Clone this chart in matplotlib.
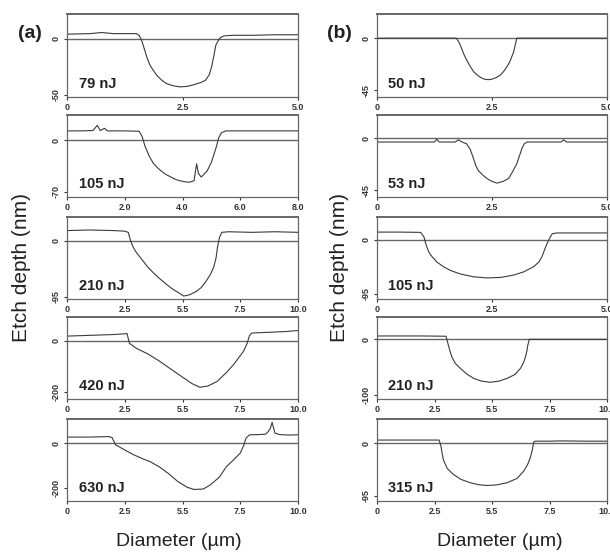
"""
Etch depth profiles of craters for several pulse energies, panels (a) and (b).
"""

import matplotlib
matplotlib.use('Agg')
import matplotlib.pyplot as plt

plt.rcParams['font.family'] = ['Liberation Sans', 'DejaVu Sans']

# ---- data ----
# column (a)
a_energy = ['79 nJ', '105 nJ', '210 nJ', '420 nJ', '630 nJ']
a_xmax = [5.0, 8.0, 10.0, 10.0, 10.0]
a_ylim = [(-52, 22), (-77, 34), (-99, 40), (-229, 93), (-256, 107)]
a_yticks = [-50, -70, -95, -200, -200]
a_xticklabels = [['0', '2.5', '5.0'],
                 ['0', '2.0', '4.0', '6.0', '8.0'],
                 ['0', '2.5', '5.5', '7.5', '10.0'],
                 ['0', '2.5', '5.5', '7.5', '10.0'],
                 ['0', '2.5', '5.5', '7.5', '10.0']]

a1_x = [0, 0.5, 0.75, 1.0, 1.5, 1.56, 1.62, 1.68, 1.74, 1.8, 1.88, 1.95, 2.05,
        2.15, 2.3, 2.45, 2.6, 2.75, 2.9, 3.0, 3.08, 3.13, 3.18, 3.22, 3.27,
        3.32, 3.4, 3.6, 4.0, 4.5, 5.0]
a1_y = [4, 4.5, 5.5, 4.5, 4.5, 3, -2, -10, -18, -24, -29, -33, -37,
        -40, -42, -43, -42.5, -41, -39, -37, -32, -25, -15, -6, -2,
        1, 2.5, 3, 3, 3.5, 3.5]

a2_x = [0, 0.5, 0.9, 1.05, 1.15, 1.3, 1.4, 2.0, 2.5, 2.6, 2.7, 2.85, 3.0, 3.15,
        3.3, 3.45, 3.6, 3.75, 3.9, 4.1, 4.25, 4.4, 4.49, 4.55, 4.65, 4.85, 5.0,
        5.1, 5.18, 5.25, 5.35, 5.5, 6.0, 7.0, 8.0]
a2_y = [12.5, 12.5, 13, 20, 13, 16, 12.5, 12.5, 12, 5, -8, -22, -32, -38,
        -43, -47, -50, -53, -55, -56.5, -57, -55, -32, -45, -50, -42, -30,
        -18, -8, 3, 10, 12.5, 12.5, 12.5, 12.5]

a3_x = [0, 1, 2, 2.5, 2.65, 2.75, 2.85, 3.0, 3.2, 3.5, 3.75, 4.0, 4.3, 4.6, 4.9,
        5.05, 5.3, 5.6, 5.8, 6.0, 6.2, 6.35, 6.45, 6.52, 6.6, 6.7, 7.0, 8.0,
        9.0, 10.0]
a3_y = [17, 18, 17, 16, 14, 0, -10, -20, -30, -45, -55, -64, -74, -83, -90,
        -94, -92, -86, -80, -70, -58, -45, -30, -10, 5, 14, 15, 14, 15, 14]

a4_x = [0, 1, 2, 2.5, 2.6, 2.7, 3.0, 3.5, 4.0, 4.5, 5.0, 5.4, 5.75, 6.1, 6.5,
        6.9, 7.2, 7.45, 7.65, 7.8, 7.9, 8.0, 8.5, 9.0, 9.5, 10.0]
a4_y = [18, 21, 24, 27, 28, -10, -30, -52, -80, -112, -143, -168, -183, -178,
        -160, -125, -95, -65, -40, -10, 20, 30, 32, 34, 36, 40]

a5_x = [0, 1, 1.8, 1.95, 2.1, 2.5, 2.9, 3.3, 3.6, 4.0, 4.4, 4.8, 5.2, 5.5, 5.9,
        6.2, 6.6, 6.9, 7.2, 7.5, 7.65, 7.75, 7.9, 8.3, 8.6, 8.7, 8.8, 8.88, 9.0,
        9.2, 9.6, 10.0]
a5_y = [27, 27, 29, 25, -7, -30, -52, -70, -82, -105, -135, -170, -195, -205,
        -203, -185, -150, -104, -75, -44, -10, 22, 37, 38, 40, 50, 65, 92, 45,
        38, 36, 37]

# column (b)
b_energy = ['50 nJ', '53 nJ', '105 nJ', '210 nJ', '315 nJ']
b_xmax = [5.0, 5.0, 5.0, 10.0, 10.0]
b_ylim = [(-51, 21), (-51, 20), (-104, 40), (-107, 40), (-104, 44)]
b_yticks = [-45, -45, -95, -100, -95]
b_xticklabels = [['0', '2.5', '5.0'],
                 ['0', '2.5', '5.0'],
                 ['0', '2.5', '5.0'],
                 ['0', '2.5', '5.5', '7.5', '10.0'],
                 ['0', '2.5', '5.5', '7.5', '10.0']]

b1_x = [0, 1, 1.6, 1.73, 1.8, 1.85, 1.9, 1.95, 2.02, 2.1, 2.18, 2.25, 2.33,
        2.42, 2.5, 2.6, 2.68, 2.75, 2.82, 2.88, 2.93, 2.97, 3.01, 3.04, 3.5,
        4.0, 5.0]
b1_y = [0, 0, 0, 0, -5, -10, -15, -19, -24, -29, -32, -34, -35.5,
        -36, -35.5, -34, -32, -29, -25, -21, -16, -12, -5, 0, 0,
        0, 0]

b2_x = [0, 0.5, 1.0, 1.25, 1.3, 1.35, 1.7, 1.77, 1.85, 1.95, 2.03, 2.1, 2.15,
        2.2, 2.3, 2.39, 2.5, 2.61, 2.74, 2.86, 2.95, 3.04, 3.1, 3.15, 3.2, 3.26,
        3.5, 4.0, 4.06, 4.12, 4.5, 5.0]
b2_y = [-3.4, -3.4, -3.4, -3.4, -1, -3.4, -3.4, -1.5, -3.4, -5, -10, -18, -24,
        -28, -32, -35, -37.5, -39, -37.5, -35, -29, -22, -15, -9, -5, -3.4,
        -3.4, -3.4, -1.5, -3.4, -3.4, -3.4]

b3_x = [0, 0.5, 0.95, 1.02, 1.08, 1.13, 1.19, 1.3, 1.44, 1.6, 1.81, 2.1, 2.39,
        2.7, 2.97, 3.2, 3.41, 3.52, 3.59, 3.65, 3.7, 3.76, 3.81, 3.9, 4.5, 5.0]
b3_y = [13.5, 13.5, 13, 5, -12, -22, -29, -39, -47, -54, -60, -65, -67,
        -66, -62, -56, -47, -39, -29, -16, -6, 4, 10.5, 12, 12, 12]

b4_x = [0, 1, 2, 3.0, 3.1, 3.18, 3.25, 3.4, 3.62, 3.9, 4.2, 4.55, 4.93, 5.3,
        5.66, 6.0, 6.24, 6.38, 6.46, 6.52, 6.55, 6.62, 7, 8, 9, 10]
b4_y = [6, 6, 6, 5.5, -10, -22, -31, -43, -52, -62, -70, -75, -77, -75,
        -70, -63, -52, -41, -31, -20, -12, 0, 0, 0, 0, 0]

b5_x = [0, 1, 2, 2.7, 2.78, 2.84, 2.89, 3.05, 3.32, 3.65, 4.05, 4.4, 4.78, 5.2,
        5.66, 6.1, 6.38, 6.55, 6.68, 6.76, 6.82, 6.9, 7.5, 8, 9, 10]
b5_y = [6, 6, 6, 6, -5, -20, -30, -45, -56, -65, -71, -74.5, -76, -75,
        -71, -63, -50, -38, -24, -10, 3, 4, 4, 4.5, 4, 4]

a_profiles = [(a1_x, a1_y), (a2_x, a2_y), (a3_x, a3_y), (a4_x, a4_y), (a5_x, a5_y)]
b_profiles = [(b1_x, b1_y), (b2_x, b2_y), (b3_x, b3_y), (b4_x, b4_y), (b5_x, b5_y)]


def draw_panel(ax, prof, xmax, ylim, ytick, xlabels, energy):
    """
    Draw one depth profile with its zero line.
    """
    x, y = prof
    ax.axhline(0, color='#666666', lw=1.0, zorder=1)
    ax.plot(x, y, color='#3a3a3a', lw=0.8, zorder=2)
    ax.set_xlim(0, xmax)
    ax.set_ylim(*ylim)
    n = len(xlabels)
    ax.set_xticks([xmax * i / (n - 1) for i in range(n)])
    ax.set_xticklabels(xlabels)
    ax.set_yticks([ytick, 0])
    ax.set_yticklabels([str(ytick), '0'], rotation=90, va='center')
    ax.tick_params(labelsize=6.5, length=2.5, width=0.8, pad=2,
                   colors='#333333')
    for lab in ax.get_xticklabels() + ax.get_yticklabels():
        lab.set_fontweight('bold')
    for s in ax.spines.values():
        s.set_color('#666666')
        s.set_linewidth(0.9)
    ax.spines['top'].set_linewidth(1.4)
    ax.text(0.05, 0.16, energy, transform=ax.transAxes, fontsize=10.5,
            fontweight='bold', va='center', ha='left', color='#222222')


def main():
    fig = plt.figure(figsize=(6.1, 5.52), dpi=100)
    H = 552.0
    W = 610.0
    rows = [(14, 97), (115, 197), (217, 299), (317, 399), (419, 501)]
    for i, (top, bot) in enumerate(rows):
        axa = fig.add_axes([67 / W, 1 - bot / H, 231 / W, (bot - top) / H])
        draw_panel(axa, a_profiles[i], a_xmax[i], a_ylim[i], a_yticks[i],
                   a_xticklabels[i], a_energy[i])
        axb = fig.add_axes([377 / W, 1 - bot / H, 230 / W, (bot - top) / H])
        draw_panel(axb, b_profiles[i], b_xmax[i], b_ylim[i], b_yticks[i],
                   b_xticklabels[i], b_energy[i])

    fig.text(18 / W, 1 - 33 / H, '(a)', fontsize=14, fontweight='bold',
             ha='left', va='center', color='#222222')
    fig.text(327 / W, 1 - 33 / H, '(b)', fontsize=14, fontweight='bold',
             ha='left', va='center', color='#222222')
    fig.text(22 / W, 1 - 267 / H, 'Etch depth (nm)', fontsize=15,
             rotation=90, ha='center', va='center', color='#222222')
    fig.text(340 / W, 1 - 267 / H, 'Etch depth (nm)', fontsize=15,
             rotation=90, ha='center', va='center', color='#222222')
    fig.text(179 / W, 1 - 541 / H, 'Diameter (µm)', fontsize=14,
             ha='center', va='center', color='#222222')
    fig.text(500 / W, 1 - 541 / H, 'Diameter (µm)', fontsize=14,
             ha='center', va='center', color='#222222')

    fig.savefig('out.png', dpi=100)


if __name__ == '__main__':
    main()
